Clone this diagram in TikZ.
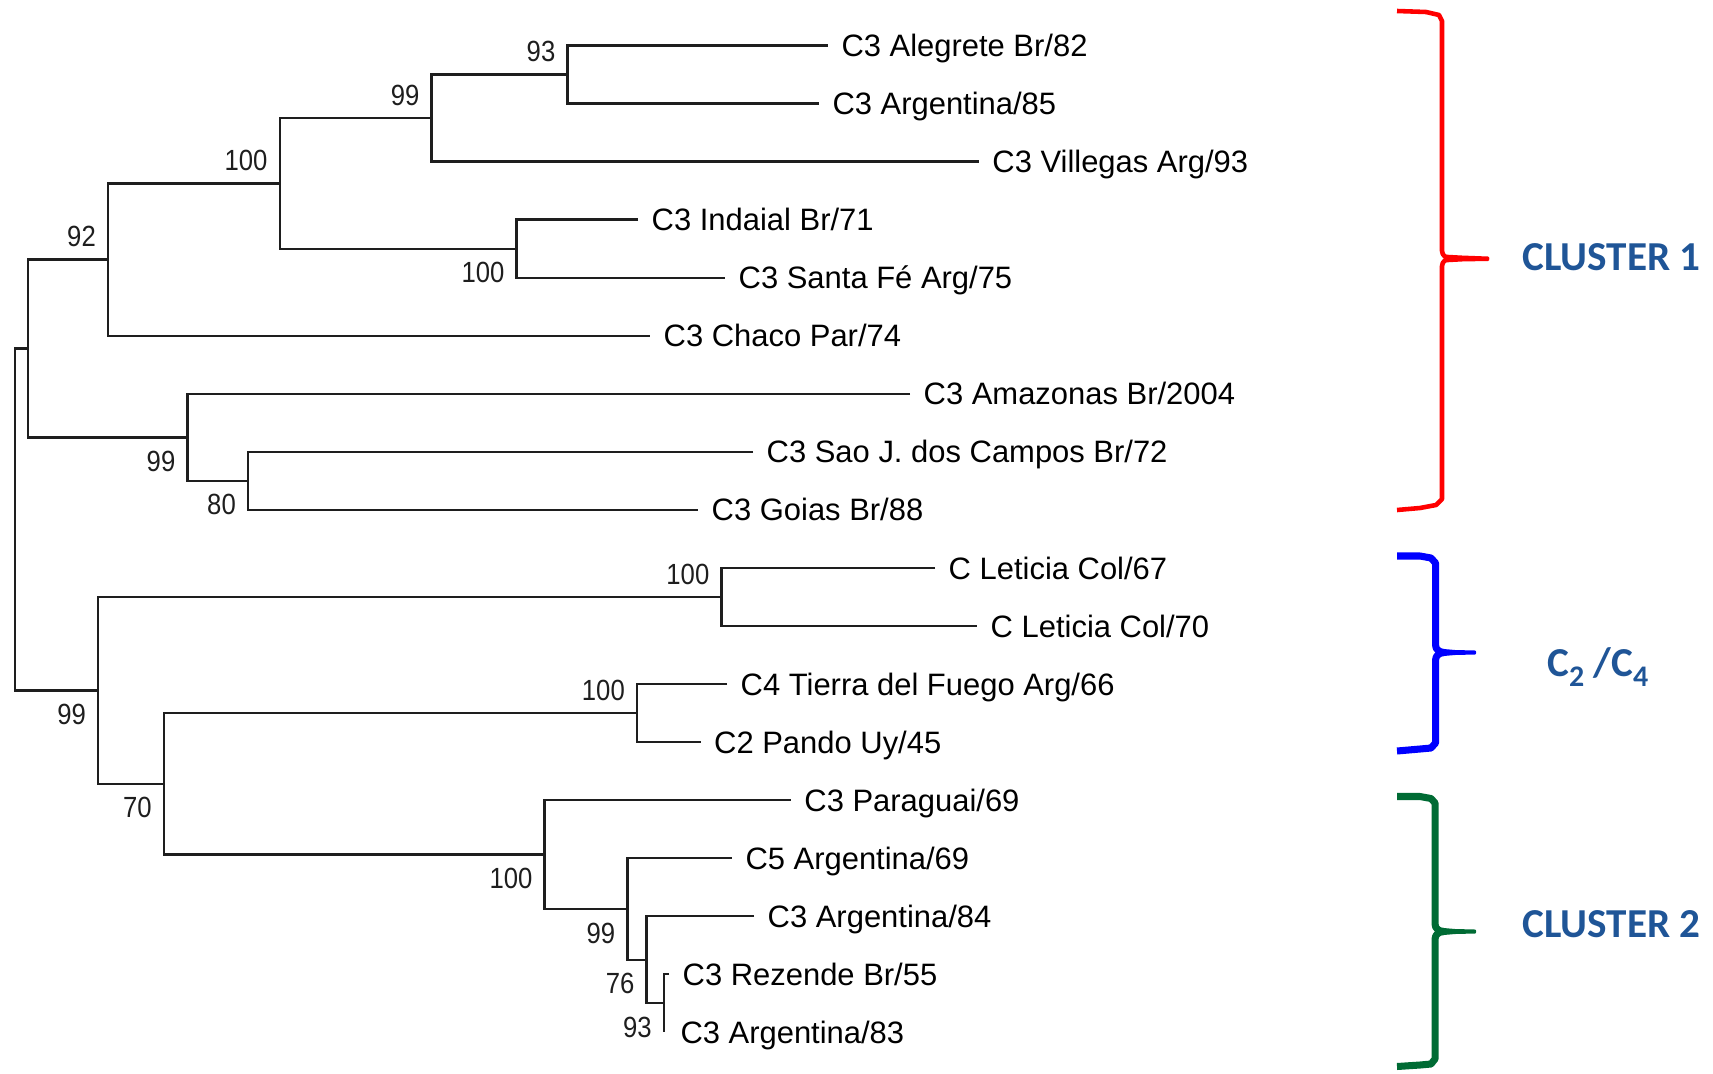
\documentclass[tikz,border=0pt]{standalone}
\usepackage{fontspec}
\setmainfont{Liberation Sans}
\newfontfamily\bootfont[FakeStretch=0.88]{Liberation Sans}
\newfontfamily\clusterfont{Carlito}
\usetikzlibrary{positioning}
\definecolor{TreeInk}{HTML}{1E1E1E}
\definecolor{ClusterRed}{HTML}{FF0000}
\definecolor{ClusterBlue}{HTML}{0000FF}
\definecolor{ClusterGreen}{HTML}{006B34}
\definecolor{ClusterText}{HTML}{1F5597}
\newcommand\lowdigit[1]{\raisebox{-1mm}{\fontsize{8.5}{9}\selectfont #1}}
\tikzset{
  branch/.style={draw=TreeInk,line width=.66pt},
  taxon/.style={
    anchor=west,
    inner sep=0pt,
    text=black,
    text height=6.3pt,
    text depth=0pt,
    font=\fontsize{8.8}{10}\selectfont
  },
  boot/.style={inner sep=0pt,text=TreeInk,font=\bootfont\fontsize{8.3}{9}\selectfont},
  bootup/.style={boot,anchor=east,xshift=-1.15mm,yshift=2.3mm},
  bootdown/.style={boot,anchor=east,xshift=-1.15mm,yshift=-2.4mm},
  clusterlabel/.style={inner sep=0pt,text=ClusterText,font=\clusterfont\bfseries\fontsize{11.7}{13}\selectfont}
}

\begin{document}
\begin{tikzpicture}[x=.01cm,y=-.01cm]
  \useasboundingbox (0,0) rectangle (1713,1073);

  % Tips of the terminal branches.
  \coordinate (t1) at (827.8,45.5);
  \coordinate (t2) at (818.8,103.55);
  \coordinate (t3) at (978.7,161.6);
  \coordinate (t4) at (638,219.65);
  \coordinate (t5) at (725,277.7);
  \coordinate (t6) at (650,335.75);
  \coordinate (t7) at (910,393.8);
  \coordinate (t8) at (753,451.85);
  \coordinate (t9) at (698,509.9);
  \coordinate (t10) at (935,567.95);
  \coordinate (t11) at (977,626);
  \coordinate (t12) at (727,684.05);
  \coordinate (t13) at (700.5,742.1);
  \coordinate (t14) at (790.7,800.15);
  \coordinate (t15) at (731.8,858.2);
  \coordinate (t16) at (754,916.25);
  \coordinate (t17) at (669,974.3);
  \coordinate (t18) at (663.8,1032.35);

  % Internal nodes, each at the middle of its children.
  \coordinate (n93a) at (567.5,74.5);
  \coordinate (n99a) at (431.6,118.05);
  \coordinate (n100b) at (516.6,248.7);
  \coordinate (n100a) at (279.7,183.4);
  \coordinate (n92) at (108,259.6);
  \coordinate (n80) at (248,480.9);
  \coordinate (n99b) at (187.5,437.35);
  \coordinate (ntop) at (28,348.5);
  \coordinate (n100c) at (721.5,597);
  \coordinate (n100d) at (637,713.1);
  \coordinate (n93b) at (663.8,1003.3);
  \coordinate (n76) at (646.6,959.8);
  \coordinate (n99d) at (627.4,909);
  \coordinate (n100e) at (544.6,854.6);
  \coordinate (n70) at (163.8,783.85);
  \coordinate (n99c) at (98.2,690.4);
  \coordinate (nroot) at (15.3,519.5);

  % Branches.
  \draw[branch] (t1) -| (n93a) |- (t2);
  \draw[branch] (n93a) -| (n99a) |- (t3);
  \draw[branch] (t4) -| (n100b) |- (t5);
  \draw[branch] (n99a) -| (n100a) |- (n100b);
  \draw[branch] (n100a) -| (n92) |- (t6);
  \draw[branch] (t8) -| (n80) |- (t9);
  \draw[branch] (t7) -| (n99b) |- (n80);
  \draw[branch] (n92) -| (ntop) |- (n99b);
  \draw[branch] (t10) -| (n100c) |- (t11);
  \draw[branch] (t12) -| (n100d) |- (t13);
  \draw[branch] (t17) -| (n93b) |- (t18);
  \draw[branch] (t16) -| (n76) |- (n93b);
  \draw[branch] (t15) -| (n99d) |- (n76);
  \draw[branch] (t14) -| (n100e) |- (n99d);
  \draw[branch] (n100d) -| (n70) |- (n100e);
  \draw[branch] (n100c) -| (n99c) |- (n70);
  \draw[branch] (ntop) -| (nroot) |- (n99c);

  % Isolate names.
  \node[taxon,right=1.3mm of t1] (l1) {C3 Alegrete Br/82};
  \node[taxon,right=1.3mm of t2] (l2) {C3 Argentina/85};
  \node[taxon,right=1.3mm of t3] (l3) {C3 Villegas Arg/93};
  \node[taxon,right=1.3mm of t4] (l4) {C3 Indaial Br/71};
  \node[taxon,right=1.3mm of t5] (l5) {C3 Santa Fé Arg/75};
  \node[taxon,right=1.3mm of t6] (l6) {C3 Chaco Par/74};
  \node[taxon,right=1.3mm of t7] (l7) {C3 Amazonas Br/2004};
  \node[taxon,right=1.3mm of t8] (l8) {C3 Sao J. dos Campos Br/72};
  \node[taxon,right=1.3mm of t9] (l9) {C3 Goias Br/88};
  \node[taxon,right=1.3mm of t10] (l10) {C Leticia Col/67};
  \node[taxon,right=1.3mm of t11] (l11) {C Leticia Col/70};
  \node[taxon,right=1.3mm of t12] (l12) {C4 Tierra del Fuego Arg/66};
  \node[taxon,right=1.3mm of t13] (l13) {C2 Pando Uy/45};
  \node[taxon,right=1.3mm of t14] (l14) {C3 Paraguai/69};
  \node[taxon,right=1.3mm of t15] (l15) {C5 Argentina/69};
  \node[taxon,right=1.3mm of t16] (l16) {C3 Argentina/84};
  \node[taxon,right=1.3mm of t17] (l17) {C3 Rezende Br/55};
  \node[taxon,right=1.6mm of t18] (l18) {C3 Argentina/83};

  % Bootstrap values.
  \node[bootup] (b93a) at (n93a) {93};
  \node[bootup] (b99a) at (n99a) {99};
  \node[bootup] (b100a) at (n100a) {100};
  \node[bootdown] (b100b) at (n100b) {100};
  \node[bootup] (b92) at (n92) {92};
  \node[bootdown] (b99b) at (n99b) {99};
  \node[bootdown] (b80) at (n80) {80};
  \node[bootup] (b100c) at (n100c) {100};
  \node[bootdown] (b99c) at (n99c) {99};
  \node[bootup] (b100d) at (n100d) {100};
  \node[bootdown] (b70) at (n70) {70};
  \node[bootdown] (b100e) at (n100e) {100};
  \node[bootdown] (b99d) at (n99d) {99};
  \node[bootdown] (b76) at (n76) {76};
  \node[bootdown] (b93b) at (n93b) {93};

  % Cluster braces.
  \draw[ClusterRed,line width=1.3pt,line join=round]
    (1397,11) -- (1426,12) -- (1439,15) -- (1442,21) -- (1442,251) to[out=-90,in=180] (1451,258.5);
  \draw[ClusterRed,line width=1.3pt,line join=round]
    (1451,258.5) to[out=180,in=90] (1442,266) -- (1442,499) -- (1436,505) -- (1420,508) -- (1397,510);
  \fill[ClusterRed] (1444,254.5) -- (1462,255.5) -- (1488,256.5) to[out=0,in=0] (1488,261) -- (1462,261.5) -- (1444,262.5) -- cycle;

  \draw[ClusterBlue,line width=2pt,line join=round]
    (1397,556) -- (1420,556) -- (1431,558) -- (1435.5,563) -- (1435.5,645) to[out=-90,in=180] (1444,652.5);
  \draw[ClusterBlue,line width=2pt,line join=round]
    (1444,652.5) to[out=180,in=90] (1435.5,660) -- (1435.5,743) -- (1431,748) -- (1420,749) -- (1397,751);
  \fill[ClusterBlue] (1438,648.5) -- (1455,650) -- (1475,650.5) to[out=0,in=0] (1475,654.5) -- (1455,655) -- (1438,656.5) -- cycle;

  \draw[ClusterGreen,line width=2pt,line join=round]
    (1397,796.5) -- (1420,796.5) -- (1431,798.5) -- (1435,803) -- (1435,924) to[out=-90,in=180] (1443.5,931.5);
  \draw[ClusterGreen,line width=2pt,line join=round]
    (1443.5,931.5) to[out=180,in=90] (1435,939) -- (1435,1059) -- (1431,1064) -- (1420,1065) -- (1397,1066.5);
  \fill[ClusterGreen] (1438,927.5) -- (1455,929) -- (1475,929.5) to[out=0,in=0] (1475,933.5) -- (1455,934) -- (1438,935.5) -- cycle;

  % Cluster names.
  \node[clusterlabel] (cl1) at (1611.7,257) {CLUSTER 1};
  \node[clusterlabel] (cl24) at (1597.8,667) {C\lowdigit{2} /C\lowdigit{4}};
  \node[clusterlabel] (cl2) at (1611.7,924) {CLUSTER 2};
\end{tikzpicture}
\end{document}
